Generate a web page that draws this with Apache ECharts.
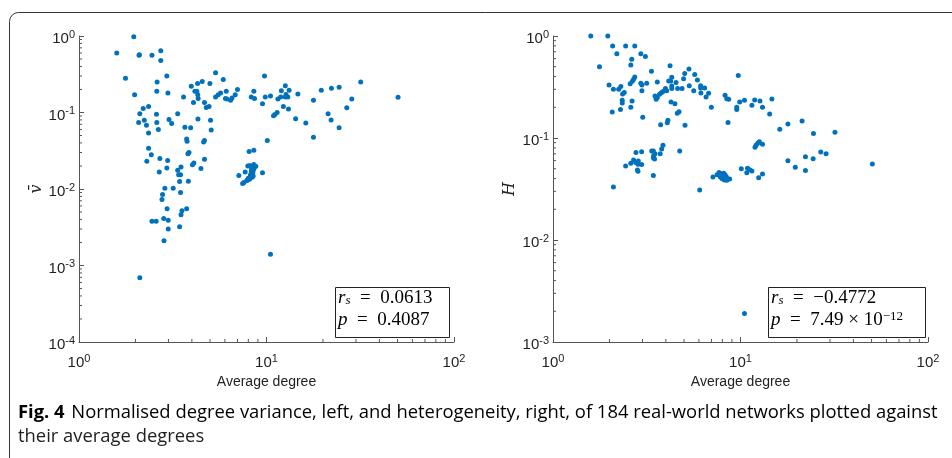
<!DOCTYPE html>
<html>
<head>
<meta charset="utf-8">
<script src="https://cdn.jsdelivr.net/npm/echarts@6/dist/echarts.min.js"></script>
<style>
  html, body { margin: 0; padding: 0; background: #fff; }
  #container { width: 952px; height: 458px; }
</style>
</head>
<body>
<div id="container"></div>
<script>
// average degree vs normalised degree variance (left panel)
var variancePoints = [
  [1.59,0.60],[1.96,0.98],[2.09,0.56],[2.10,0.57],[2.45,0.56],[2.73,0.64],[2.73,0.48],[1.77,0.28],[2.94,0.30],[2.61,0.25],
  [2.60,0.19],[2.98,0.18],[1.98,0.17],[2.35,0.12],[2.20,0.113],[2.11,0.096],[2.59,0.095],[2.23,0.079],[2.08,0.074],[2.60,0.074],
  [2.29,0.068],[2.65,0.060],[2.35,0.054],[3.02,0.081],[3.12,0.072],[3.36,0.096],[2.35,0.034],[2.43,0.028],[2.30,0.023],[2.70,0.025],
  [2.97,0.0235],[2.68,0.0167],[2.94,0.0188],[2.87,0.0102],[3.18,0.0102],[2.79,0.0085],[2.77,0.0073],[2.95,0.0055],[2.45,0.0038],[2.58,0.0038],
  [2.83,0.0041],[2.99,0.0039],[2.99,0.0030],[2.84,0.0021],[2.11,0.00069],[3.44,0.0032],[3.50,0.0046],[3.54,0.0052],[3.75,0.0055],[3.48,0.0090],
  [3.44,0.0125],[3.83,0.0126],[3.40,0.0154],[3.48,0.0154],[3.36,0.0176],[3.50,0.0194],[3.81,0.029],[3.86,0.030],[4.03,0.0208],[4.10,0.0218],
  [4.47,0.0185],[4.67,0.0245],[3.75,0.045],[3.77,0.042],[4.62,0.041],[4.67,0.043],[3.67,0.064],[3.94,0.063],[4.31,0.082],[5.03,0.079],
  [5.07,0.059],[3.61,0.16],[4.08,0.135],[3.97,0.22],[4.15,0.19],[4.25,0.19],[4.30,0.17],[4.32,0.152],[4.29,0.24],[4.54,0.255],
  [4.99,0.24],[4.67,0.135],[4.77,0.116],[4.94,0.12],[5.35,0.33],[5.35,0.16],[5.53,0.17],[5.69,0.18],[5.88,0.27],[6.10,0.19],
  [6.04,0.152],[6.15,0.15],[6.43,0.145],[6.55,0.155],[6.81,0.17],[7.00,0.20],[9.76,0.30],[8.29,0.16],[8.63,0.152],[8.56,0.19],
  [9.52,0.13],[9.85,0.16],[10.5,0.164],[10.1,0.043],[10.9,0.091],[11.1,0.094],[11.4,0.10],[11.5,0.15],[11.9,0.16],[12.0,0.193],
  [12.3,0.12],[12.6,0.224],[12.6,0.16],[12.7,0.172],[13.0,0.16],[13.2,0.196],[13.1,0.111],[14.7,0.175],[14.3,0.083],[16.2,0.073],
  [17.8,0.145],[17.8,0.0475],[19.6,0.196],[22.2,0.208],[24.4,0.214],[21.3,0.096],[22.1,0.080],[24.4,0.063],[26.8,0.115],[28.5,0.15],
  [31.8,0.25],[50.3,0.158],[10.5,0.0014],
  [7.12,0.015],[7.70,0.0167],[8.08,0.031],[8.56,0.032],[9.52,0.0163],
  [7.95,0.020],[8.20,0.020],[8.55,0.0209],[8.77,0.0198],[8.33,0.0179],[8.45,0.0162],[8.38,0.0142],[8.12,0.0134],[7.85,0.0129],[7.58,0.0122],
  [7.46,0.0118],[8.49,0.0148],[8.10,0.0202],[8.35,0.0181],[8.30,0.0167],[8.20,0.0152],[7.92,0.0131],[8.50,0.0176],[8.60,0.0188],[8.00,0.0138]
];

// average degree vs heterogeneity (right panel)
var heterogeneityPoints = [
  [1.59,1.0],[1.96,1.0],[1.77,0.5],[2.08,0.8],[2.44,0.8],[2.73,0.8],[2.19,0.67],[2.63,0.59],[2.60,0.52],[2.94,0.67],
  [3.11,0.63],[3.35,0.45],[4.21,0.51],[5.31,0.475],[5.04,0.43],[5.70,0.42],[5.89,0.37],[4.97,0.38],[9.73,0.41],[1.99,0.33],
  [2.10,0.30],[2.24,0.30],[2.30,0.32],[2.35,0.27],[2.40,0.28],[2.34,0.235],[2.34,0.22],[2.07,0.18],[2.29,0.19],[2.60,0.20],
  [2.64,0.23],[2.58,0.34],[2.65,0.36],[2.69,0.376],[2.73,0.396],[2.94,0.345],[2.98,0.33],[2.98,0.29],[3.16,0.345],[3.01,0.16],
  [3.60,0.354],[3.50,0.258],[3.55,0.24],[3.60,0.25],[3.70,0.268],[3.78,0.278],[3.86,0.285],[3.98,0.305],[4.04,0.29],[4.14,0.362],
  [4.24,0.362],[4.30,0.393],[4.30,0.323],[4.30,0.306],[4.53,0.35],[4.62,0.306],[4.88,0.306],[4.26,0.225],[4.47,0.217],[4.07,0.141],
  [4.10,0.149],[3.75,0.135],[4.60,0.175],[4.70,0.181],[5.06,0.133],[5.33,0.326],[5.63,0.29],[6.13,0.326],[6.13,0.31],[6.44,0.31],
  [6.15,0.276],[6.55,0.252],[6.76,0.275],[6.99,0.20],[8.27,0.262],[8.45,0.243],[8.65,0.24],[8.58,0.142],[9.55,0.20],[9.55,0.19],
  [9.90,0.225],[10.5,0.234],[11.5,0.21],[11.9,0.236],[12.7,0.23],[13.1,0.20],[14.7,0.241],[14.3,0.172],[16.2,0.122],[17.9,0.137],
  [21.3,0.147],[24.5,0.111],[31.9,0.114],[50.5,0.0556],[10.5,0.0019],
  [2.10,0.033],[2.44,0.053],[2.60,0.0565],[2.69,0.061],[2.77,0.072],[2.76,0.0575],[2.85,0.0596],[2.97,0.055],[2.97,0.0735],[2.84,0.0553],
  [2.82,0.0486],[2.84,0.0472],[3.36,0.0746],[3.43,0.0746],[3.50,0.070],[3.44,0.067],[3.48,0.0622],[3.43,0.064],[3.43,0.0428],[3.73,0.070],
  [3.80,0.078],[3.86,0.085],[4.74,0.0746],[6.06,0.031],
  [7.13,0.0415],[7.50,0.0437],[7.68,0.0458],[7.80,0.0418],[8.00,0.0445],[8.13,0.045],[8.27,0.0437],[8.40,0.0418],[8.58,0.0396],[8.75,0.0396],
  [8.20,0.0388],[8.45,0.0385],[7.95,0.040],[8.30,0.0405],[8.10,0.0425],
  [10.1,0.050],[10.9,0.0504],[10.8,0.0457],[11.2,0.0487],[11.5,0.0476],[11.95,0.081],[12.1,0.085],[12.35,0.0887],[12.6,0.092],[13.1,0.087],
  [12.5,0.0408],[13.1,0.0444],[17.9,0.060],[19.6,0.0516],[22.2,0.0656],[22.2,0.048],[24.4,0.0625],[26.8,0.073],[28.6,0.070]
];

var xRange = [1, 100];
var leftYRange = [1e-4, 1];
var rightYRange = [1e-3, 1];
var minorMultipliers = [2, 3, 4, 5, 6, 7, 8, 9];

var dotColor = '#0072BD';
var axisColor = '#555555';
var sansFont = 'Liberation Sans';
var serifFont = 'Liberation Serif';
var captionFont = 'Open Sans';

// minor log ticks: [x, y, kind]  kind 0 = on x axis, 1 = on y axis
function minorTicks(yMin, yMax) {
  var out = [];
  for (var d = xRange[0]; d < xRange[1]; d *= 10) {
    minorMultipliers.forEach(function (m) { out.push([m * d, yMin, 0]); });
  }
  for (var e = yMin; e < yMax * 0.999; e *= 10) {
    minorMultipliers.forEach(function (m) { out.push([xRange[0], m * e, 1]); });
  }
  return out;
}

function tickSeries(idx, yMin, yMax) {
  return {
    type: 'custom',
    xAxisIndex: idx,
    yAxisIndex: idx,
    silent: true,
    clip: false,
    z: 1,
    data: minorTicks(yMin, yMax),
    renderItem: function (params, api) {
      var p = api.coord([api.value(0), api.value(1)]);
      var vertical = api.value(2) === 0;
      return {
        type: 'line',
        shape: vertical
          ? { x1: p[0], y1: p[1], x2: p[0], y2: p[1] - 3 }
          : { x1: p[0], y1: p[1], x2: p[0] + 3, y2: p[1] },
        style: { stroke: axisColor, lineWidth: 1 }
      };
    }
  };
}

var tickLabel = {
  color: '#222',
  fontSize: 15,
  fontFamily: sansFont,
  formatter: function (v) { return '{b|10}{s|' + Math.round(Math.log10(v)) + '}'; },
  rich: {
    b: { fontSize: 15, lineHeight: 20, fontFamily: sansFont, color: '#222' },
    s: { fontSize: 11, lineHeight: 11, verticalAlign: 'top', fontFamily: sansFont, color: '#222' }
  }
};

function xAxisFor(idx) {
  return {
    type: 'log', logBase: 10, gridIndex: idx, min: xRange[0], max: xRange[1],
    name: 'Average degree', nameLocation: 'middle', nameGap: 30,
    nameTextStyle: { fontFamily: sansFont, fontSize: 14, color: '#222' },
    axisLine: { show: true, lineStyle: { color: axisColor, width: 1 } },
    axisTick: { show: true, inside: true, length: 5, lineStyle: { color: axisColor } },
    axisLabel: Object.assign({ margin: 11 }, tickLabel),
    splitLine: { show: false }
  };
}

function yAxisFor(idx, range, name, gap) {
  return {
    type: 'log', logBase: 10, gridIndex: idx, min: range[0], max: range[1],
    name: name, nameLocation: 'middle', nameGap: gap, nameRotate: 90,
    nameTextStyle: { fontFamily: 'DejaVu Serif', fontStyle: 'italic', fontSize: 16, color: '#222' },
    axisLine: { show: true, lineStyle: { color: axisColor, width: 1 } },
    axisTick: { show: true, inside: true, length: 5, lineStyle: { color: axisColor } },
    axisLabel: Object.assign({ margin: 4, padding: [6, 0, 0, 0] }, tickLabel),
    splitLine: { show: false }
  };
}

var boxRich = {
  n: { fontFamily: serifFont, fontSize: 19, color: '#111' },
  i: { fontFamily: serifFont, fontSize: 19, fontStyle: 'italic', color: '#111' },
  sub: { fontFamily: serifFont, fontSize: 13, fontStyle: 'italic', color: '#111', verticalAlign: 'bottom', lineHeight: 12 },
  sup: { fontFamily: serifFont, fontSize: 13, color: '#111', verticalAlign: 'top', lineHeight: 12 }
};

function statBox(x, y, w, line1, line2) {
  return {
    type: 'group', left: x, top: y,
    children: [
      { type: 'rect', shape: { x: 0.5, y: 0.5, width: w, height: 50 },
        style: { fill: '#fff', stroke: '#222', lineWidth: 1 } },
      { type: 'text', x: 3, y: 11, style: { text: line1, rich: boxRich, verticalAlign: 'middle' } },
      { type: 'text', x: 3, y: 33, style: { text: line2, rich: boxRich, verticalAlign: 'middle' } }
    ]
  };
}

var dom = document.getElementById('container');
var myChart = echarts.init(dom, null, { renderer: 'canvas' });

var option = {
  animation: false,
  grid: [
    { left: 79, top: 36, width: 375, height: 306 },
    { left: 553, top: 36, width: 375, height: 306 }
  ],
  xAxis: [xAxisFor(0), xAxisFor(1)],
  yAxis: [yAxisFor(0, leftYRange, 'v\u0304', 33), yAxisFor(1, rightYRange, 'H', 35)],
  series: [
    tickSeries(0, leftYRange[0], leftYRange[1]),
    tickSeries(1, rightYRange[0], rightYRange[1]),
    { type: 'scatter', xAxisIndex: 0, yAxisIndex: 0, data: variancePoints,
      symbolSize: 5, itemStyle: { color: dotColor, opacity: 1 }, z: 2 },
    { type: 'scatter', xAxisIndex: 1, yAxisIndex: 1, data: heterogeneityPoints,
      symbolSize: 5, itemStyle: { color: dotColor, opacity: 1 }, z: 2 }
  ],
  graphic: [
    { type: 'rect', left: 7, top: 10, silent: true,
      shape: { x: 0.5, y: 0.5, width: 1000, height: 520, r: 9 },
      style: { fill: 'none', stroke: '#333', lineWidth: 1 } },
    statBox(335, 287, 114, '{i|r}{sub|s}{n|  =  0.0613}', '{i|p}{n|  =  0.4087}'),
    statBox(768, 287, 157, '{i|r}{sub|s}{n|  =  \u22120.4772}', '{i|p}{n|  =  7.49 \u00d7 10}{sup|\u221212}'),
    { type: 'text', left: 18, top: 404,
      style: {
        text: '{b|Fig. 4}  {r|Normalised degree variance, left, and heterogeneity, right, of 184 real-world networks plotted against}',
        rich: {
          b: { fontFamily: captionFont, fontWeight: 'bold', fontSize: 18.4, color: '#222' },
          r: { fontFamily: captionFont, fontSize: 18.4, color: '#222' }
        }
      } },
    { type: 'text', left: 18, top: 428,
      style: { text: 'their average degrees', fontFamily: captionFont, fontSize: 18.4, fill: '#222' } }
  ]
};

myChart.setOption(option);
window.addEventListener('resize', myChart.resize);
</script>
</body>
</html>
